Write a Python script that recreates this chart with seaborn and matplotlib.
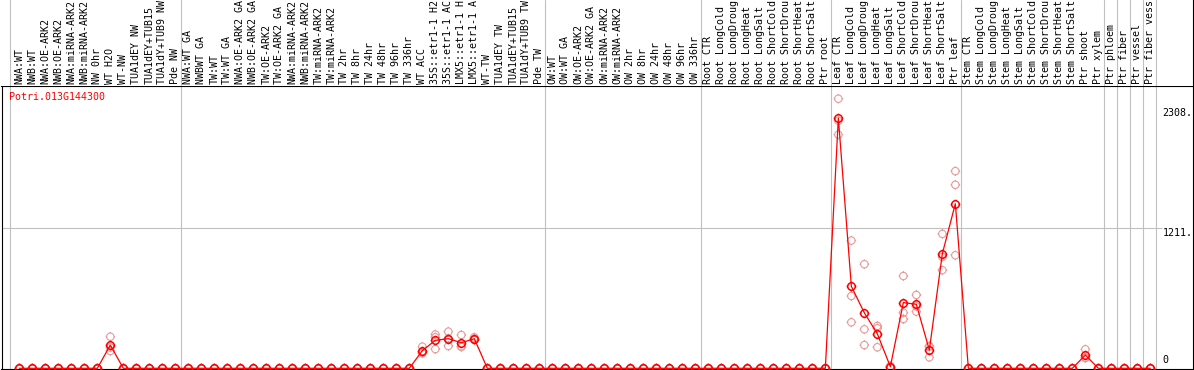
import numpy as np
import pandas as pd
import matplotlib
matplotlib.use("Agg")
import matplotlib.pyplot as plt
import matplotlib.transforms as mtransforms
from matplotlib.path import Path
import seaborn as sns


# sample labels (cut off at the top edge, as in the picture)
labels = [
    # NW block
    "NWA:WT", "NWB:WT", "NWA:OE-ARK2", "NWB:OE-ARK2", "NWA:miRNA-ARK2", "NWB:miRNA-ARK2",
    "NW 0hr", "WT H2O", "WT-NW", "TUA1dEY NW", "TUA1dEY+TUB15", "TUA1dY+TUB9 NW", "Pde NW",
    # TW block
    "NWA:WT GA", "NWBWT GA", "TW:WT", "TW:WT GA", "NWA:OE-ARK2 GA", "NWB:OE-ARK2 GA",
    "TW:OE-ARK2", "TW:OE-ARK2 GA", "NWA:miRNA-ARK2", "NWB:miRNA-ARK2", "TW:miRNA-ARK2",
    "TW:miRNA-ARK2", "TW 2hr", "TW 8hr", "TW 24hr", "TW 48hr", "TW 96hr", "TW 336hr",
    "WT ACC", "35S::etr1-1 H2", "35S::etr1-1 AC", "LMX5::etr1-1 H", "LMX5::etr1-1 A",
    "WT-TW", "TUA1dEY TW", "TUA1dEY+TUB15", "TUA1dY+TUB9 TW", "Pde TW",
    # OW block
    "OW:WT", "OW:WT GA", "OW:OE-ARK2", "OW:OE-ARK2 GA", "OW:miRNA-ARK2", "OW:miRNA-ARK2",
    "OW 2hr", "OW 8hr", "OW 24hr", "OW 48hr", "OW 96hr", "OW 336hr",
    # root
    "Root CTR", "Root LongCold", "Root LongDroug", "Root LongHeat", "Root LongSalt",
    "Root ShortCold", "Root ShortDrou", "Root ShortHeat", "Root ShortSalt", "Ptr root",
    # leaf
    "Leaf CTR", "Leaf LongCold", "Leaf LongDroug", "Leaf LongHeat", "Leaf LongSalt",
    "Leaf ShortCold", "Leaf ShortDrou", "Leaf ShortHeat", "Leaf ShortSalt", "Ptr leaf",
    # stem
    "Stem CTR", "Stem LongCold", "Stem LongDroug", "Stem LongHeat", "Stem LongSalt",
    "Stem ShortCold", "Stem ShortDrou", "Stem ShortHeat", "Stem ShortSalt", "Ptr shoot",
    "Ptr xylem",
    # tissues
    "Ptr phloem", "Ptr fiber", "Ptr vessel", "Ptr fiber vess",
]
group_sizes = [13, 28, 12, 10, 10, 11, 1, 1, 1, 1]

# three replicates per sample
rep_a = [0, 0, 0, 0, 0, 0, 0, 273, 0, 0, 0, 0, 0,
         0, 0, 0, 0, 0, 0, 0, 0, 0, 0, 0, 0, 0, 0, 0, 0, 0, 0, 187, 292, 317, 288, 268, 0, 0, 0, 0, 0,
         0, 0, 0, 0, 0, 0, 0, 0, 0, 0, 0, 0,
         0, 0, 0, 0, 0, 0, 0, 0, 0, 0,
         2330, 1104, 900, 366, 20, 798, 634, 192, 1162, 1704,
         0, 0, 0, 0, 0, 0, 0, 0, 0, 164, 0,
         0, 0, 0, 0]
rep_b = [0, 0, 0, 0, 0, 0, 0, 180, 0, 0, 0, 0, 0,
         0, 0, 0, 0, 0, 0, 0, 0, 0, 0, 0, 0, 0, 0, 0, 0, 0, 0, 140, 268, 258, 190, 255, 0, 0, 0, 0, 0,
         0, 0, 0, 0, 0, 0, 0, 0, 0, 0, 0, 0,
         0, 0, 0, 0, 0, 0, 0, 0, 0, 0,
         2140, 625, 337, 346, 12, 481, 535, 187, 963, 1586,
         0, 0, 0, 0, 0, 0, 0, 0, 0, 92, 0,
         0, 0, 0, 0]
rep_c = [0, 0, 0, 0, 0, 0, 0, 150, 0, 0, 0, 0, 0,
         0, 0, 0, 0, 0, 0, 0, 0, 0, 0, 0, 0, 0, 0, 0, 0, 0, 0, 130, 166, 193, 185, 245, 0, 0, 0, 0, 0,
         0, 0, 0, 0, 0, 0, 0, 0, 0, 0, 0, 0,
         0, 0, 0, 0, 0, 0, 0, 0, 0, 0,
         2020, 398, 201, 182, 10, 426, 490, 95, 848, 977,
         0, 0, 0, 0, 0, 0, 0, 0, 0, 89, 0,
         0, 0, 0, 0]

gene = "Potri.013G144300"
y_top = 2440
mid_value = 1211
max_text = "2308."

assert len(labels) == len(rep_a) == len(rep_b) == len(rep_c) == sum(group_sizes)

mean_color = "#ff0000"
rep_color = "#ea9a9a"
grid_color = "#c0c0c0"

sns.set_style("white")
plt.rcParams["font.family"] = ["DejaVu Sans Mono"]
fs = 7.2

pos = np.arange(len(labels))
df = pd.DataFrame({"pos": np.tile(pos, 3), "value": rep_a + rep_b + rep_c})

W, H = 1194, 370
fig = plt.figure(figsize=(W / 100, H / 100), dpi=100)
ax = fig.add_axes([1.5 / W, 1 / H, 1191.5 / W, 283 / H])
hx = fig.add_axes([1.5 / W, 284 / H, 1191.5 / W, 86 / H], sharex=ax)

# round marker with four little ticks
t = np.linspace(0, 2 * np.pi, 33)
circle_pts = list(zip(np.cos(t), np.sin(t)))
tick_pts = [(0, 1), (0, 1.3), (0, -1), (0, -1.3), (1, 0), (1.3, 0), (-1, 0), (-1.3, 0)]
ring = Path(circle_pts + tick_pts,
            [Path.MOVETO] + [Path.LINETO] * 32 + [Path.MOVETO, Path.LINETO] * 4)

# group separators and middle line
bounds = [-0.72] + list(np.cumsum(group_sizes) - 0.6)
for b in bounds:
    ax.axvline(b, color=grid_color, lw=0.8, zorder=0)
    hx.axvline(b, color=grid_color, lw=0.8, zorder=0)
ax.hlines(mid_value, -1.5, 87.9, color=grid_color, lw=0.8, zorder=0)

# replicates
sns.scatterplot(data=df, x="pos", y="value", marker=ring, s=48, color=rep_color,
                linewidth=0.8, ax=ax, zorder=3, legend=False)
pts = ax.collections[-1]
pts.set_facecolor("none")
pts.set_edgecolor(rep_color)

# means
sns.lineplot(data=df, x="pos", y="value", estimator="mean", errorbar=None,
             color=mean_color, lw=0.9, marker=ring, markersize=7,
             markerfacecolor="none", markeredgecolor=mean_color, markeredgewidth=1.1,
             ax=ax, zorder=4)

ax.set_xlim(-1.37, 90.28)
ax.set_ylim(-6, y_top)
ax.set_xlabel("")
ax.set_ylabel("")
ax.set_xticks([])
ax.set_yticks([])
for s in ax.spines.values():
    s.set_color("black")
    s.set_linewidth(0.8)

hx.set_ylim(0, 1)
hx.set_yticks([])
hx.tick_params(bottom=False, labelbottom=False)
for k in ["top", "left", "bottom"]:
    hx.spines[k].set_visible(False)
hx.spines["right"].set_color("black")
hx.spines["right"].set_linewidth(0.8)

trans = mtransforms.blended_transform_factory(hx.transData, hx.transAxes)
for i, lab in enumerate(labels):
    hx.text(i, 2 / 86, lab, rotation=90, ha="center", va="bottom",
            fontsize=fs, color="black", transform=trans)

# value labels at the right
ax.text(87.95, 2252, max_text, ha="left", va="top", fontsize=fs, color="black")
ax.text(87.95, mid_value, str(mid_value) + ".", ha="left", va="top", fontsize=fs, color="black")
ax.text(87.95, 29, "0", ha="left", va="bottom", fontsize=fs, color="black")

fig.text(9.5 / W, 1 - 92 / H, gene, color="red", ha="left", va="top", fontsize=fs)

fig.savefig("out.png", dpi=100)
